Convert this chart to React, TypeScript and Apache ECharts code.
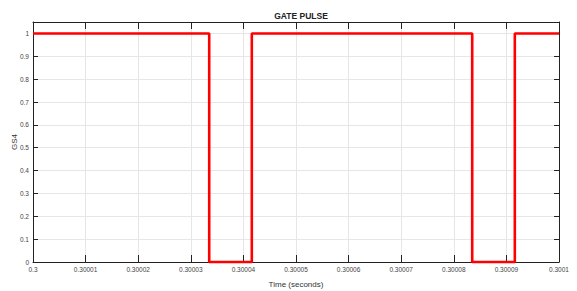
import React, { useEffect, useRef } from "react";
import * as echarts from "echarts";

// Switching instants (seconds) and the gate level that holds from each instant
const times = [0.3, 0.3000335, 0.3000416, 0.3000835, 0.3000916, 0.3001];
const levels = [1, 0, 1, 0, 1, 1];
const xTickLabels = ["0.3", "0.30001", "0.30002", "0.30003", "0.30004", "0.30005", "0.30006", "0.30007", "0.30008", "0.30009", "0.3001"];
const yTickLabels = ["0", "0.1", "0.2", "0.3", "0.4", "0.5", "0.6", "0.7", "0.8", "0.9", "1"];

const FONT = "'Liberation Sans', Arial, sans-serif";

export default function App() {
  const ref = useRef<HTMLDivElement>(null);
  useEffect(() => {
    const chart = echarts.init(ref.current!, null, { renderer: "svg" });
    const xMin = 0.3;
    const xMax = 0.3001;
    const xStep = 0.00001;
    const gridLine = { show: true, lineStyle: { color: "#e6e6e6", width: 1 } };
    chart.setOption({
      animation: false,
      backgroundColor: "#ffffff",
      title: {
        text: "GATE PULSE",
        left: 296,
        top: 6,
        textAlign: "center",
        textStyle: { fontFamily: FONT, fontSize: 8.5, fontWeight: "bold", color: "#222" },
      },
      grid: { left: 33, right: 18, top: 22, bottom: 29, containLabel: false, outerBoundsMode: "none" },
      xAxis: [
        {
          type: "value",
          min: xMin,
          max: xMax,
          interval: xStep,
          name: "Time (seconds)",
          nameLocation: "middle",
          nameGap: 18,
          nameMoveOverlap: false,
          nameTextStyle: { fontFamily: FONT, fontSize: 8, color: "#333" },
          axisLine: { show: true, onZero: false, lineStyle: { color: "#222", width: 1 } },
          axisTick: { show: true, inside: true, length: 7, lineStyle: { color: "#222" } },
          axisLabel: {
            fontFamily: FONT,
            fontSize: 6.5,
            color: "#444",
            margin: 4,
            formatter: (v: number) => xTickLabels[Math.round((v - xMin) / xStep)] ?? "",
          },
          splitLine: gridLine,
        },
        {
          type: "value",
          position: "top",
          min: xMin,
          max: xMax,
          interval: xStep,
          axisLine: { show: true, onZero: false, lineStyle: { color: "#222", width: 1 } },
          axisTick: { show: true, inside: true, length: 7, lineStyle: { color: "#222" } },
          axisLabel: { show: false },
          splitLine: { show: false },
        },
      ],
      yAxis: [
        {
          type: "value",
          min: 0,
          max: 1.05,
          interval: 0.1,
          name: "GS4",
          nameLocation: "middle",
          nameGap: 15,
          nameMoveOverlap: false,
          nameTextStyle: { fontFamily: FONT, fontSize: 8, color: "#333" },
          axisLine: { show: true, onZero: false, lineStyle: { color: "#222", width: 1 } },
          axisTick: { show: true, inside: true, length: 5, lineStyle: { color: "#222" } },
          axisLabel: {
            fontFamily: FONT,
            fontSize: 6.5,
            color: "#444",
            margin: 4,
            showMaxLabel: false,
            formatter: (v: number) => {
              const i = Math.round(v / 0.1);
              return Math.abs(v - i * 0.1) < 1e-6 ? yTickLabels[i] ?? "" : "";
            },
          },
          splitLine: gridLine,
        },
        {
          type: "value",
          position: "right",
          min: 0,
          max: 1.05,
          interval: 0.1,
          axisLine: { show: true, onZero: false, lineStyle: { color: "#222", width: 1 } },
          axisTick: { show: true, inside: true, length: 5, lineStyle: { color: "#222" } },
          axisLabel: { show: false },
          splitLine: { show: false },
        },
      ],
      series: [
        {
          type: "line",
          step: "end",
          showSymbol: false,
          symbol: "none",
          clip: false,
          data: times.map((t, i) => [t, levels[i]]),
          lineStyle: { color: "#ff0000", width: 2.6 },
          z: 5,
        },
      ],
    });
    return () => chart.dispose();
  }, []);
  return <div ref={ref} style={{ position: "absolute", left: 0, top: 0, width: 577, height: 291 }} />;
}
